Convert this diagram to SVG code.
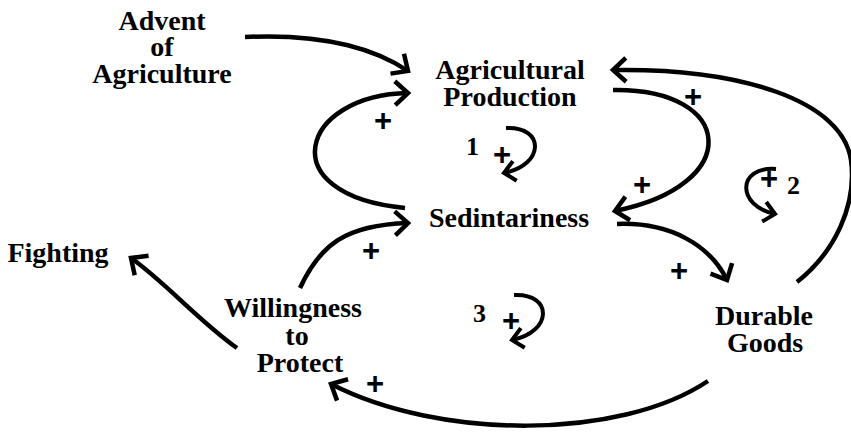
<svg xmlns="http://www.w3.org/2000/svg" width="851" height="432" viewBox="0 0 851 432">
<style>
.t{font-family:"Liberation Serif","Times New Roman",serif;font-weight:bold;font-size:28px;text-anchor:middle;fill:#000}
.n{font-family:"Liberation Serif","Times New Roman",serif;font-weight:bold;font-size:26px;fill:#000}
.p{font-family:"Liberation Sans",Arial,sans-serif;font-weight:bold;font-size:31px;text-anchor:middle;fill:#000}
.c{fill:none;stroke:#000;stroke-width:4.5;marker-end:url(#a)}
.l{fill:none;stroke:#000;stroke-width:4;marker-end:url(#s)}
</style>
<defs>
<marker id="a" markerUnits="userSpaceOnUse" markerWidth="30" markerHeight="30" refX="0" refY="0" orient="auto" overflow="visible"><path d="M-13,-12 L0,0 L-13,12" fill="none" stroke="#000" stroke-width="4.5"/></marker>
<marker id="s" markerUnits="userSpaceOnUse" markerWidth="30" markerHeight="30" refX="0" refY="0" orient="auto" overflow="visible"><path d="M-11,-10 L0,0 L-11,10" fill="none" stroke="#000" stroke-width="4"/></marker>
</defs>
<rect width="851" height="432" fill="#fff"/>
<g id="connectors">
<path class="c" d="M245,37 C330,33 380,52 408,71"/>
<path class="c" d="M405,208 C270,195 300,95 408,93"/>
<path class="c" d="M613,90 C735,88 745,185 615,211"/>
<path class="c" d="M797,282 C835,252 857,205 851,160 C842,100 740,68 613,70"/>
<path class="c" d="M617,224 C670,222 710,245 727,280"/>
<path class="c" d="M300,288 C320,245 345,225 408,223"/>
<path class="c" d="M237,348 C200,322 165,282 131,258"/>
<path class="c" d="M708,381 C620,440 440,440 331,384"/>
</g>
<g id="node-advent"><text class="t" x="162" y="30">Advent</text><text class="t" x="162" y="56">of</text><text class="t" x="162" y="83">Agriculture</text></g>
<g id="node-agprod"><text class="t" x="510" y="79">Agricultural</text><text class="t" x="510" y="106">Production</text></g>
<g id="node-sed"><text class="t" x="509" y="227">Sedintariness</text></g>
<g id="node-fighting"><text class="t" x="58" y="262">Fighting</text></g>
<g id="node-will"><text class="t" x="293" y="317">Willingness</text><text class="t" x="297" y="345">to</text><text class="t" x="300" y="372">Protect</text></g>
<g id="node-durable"><text class="t" x="764" y="325">Durable</text><text class="t" x="765" y="352">Goods</text></g>
<g id="loop1"><path class="l" d="M506,128 C545,126 545,165 504,173"/><text class="n" x="466" y="155">1</text><text class="p" x="502" y="165">+</text></g>
<g id="loop2"><path class="l" d="M776,169 C737,166 736,206 775,214"/><text class="n" x="787" y="194">2</text><text class="p" x="769" y="189">+</text></g>
<g id="loop3"><path class="l" d="M514,295 C553,293 553,332 512,340"/><text class="n" x="473" y="322">3</text><text class="p" x="511" y="331">+</text></g>
<g id="polarities">
<text class="p" x="383" y="131">+</text>
<text class="p" x="693" y="107">+</text>
<text class="p" x="642" y="195">+</text>
<text class="p" x="679" y="281">+</text>
<text class="p" x="371" y="261">+</text>
<text class="p" x="375" y="394">+</text>
</g>
</svg>
